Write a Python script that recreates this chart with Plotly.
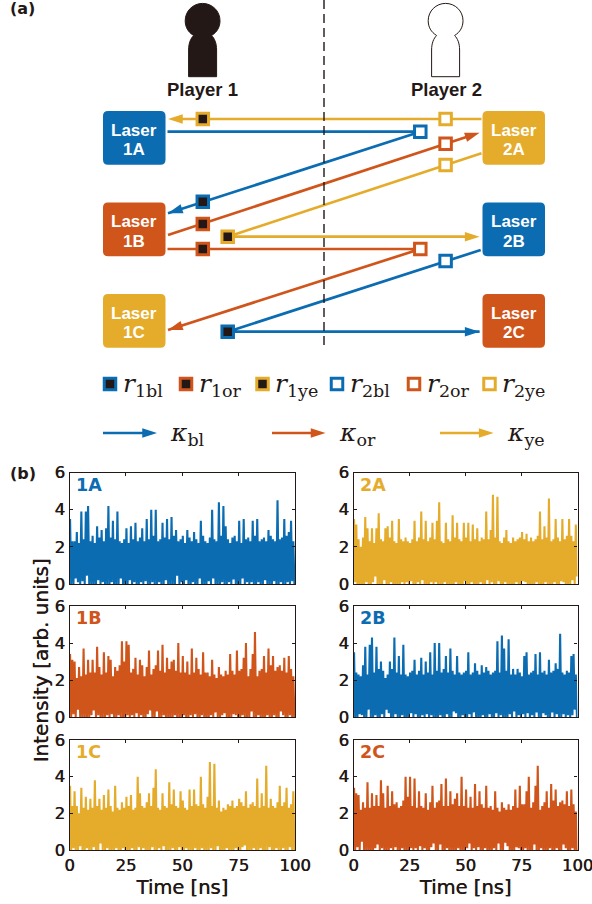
import plotly.graph_objects as go

W, H = 592, 904
BLUE, ORANGE, YELLOW, INK = "#0B6CB2", "#D0551B", "#E5AC2B", "#231815"
FAUX = "0.45px 0 0 #231815"

time_ns = [0.5,1.5,2.5,3.5,4.5,5.5,6.5,7.5,8.5,9.5,10.5,11.5,12.5,13.5,14.5,15.5,16.5,17.5,18.5,19.5,
           20.5,21.5,22.5,23.5,24.5,25.5,26.5,27.5,28.5,29.5,30.5,31.5,32.5,33.5,34.5,35.5,36.5,37.5,38.5,39.5,
           40.5,41.5,42.5,43.5,44.5,45.5,46.5,47.5,48.5,49.5,50.5,51.5,52.5,53.5,54.5,55.5,56.5,57.5,58.5,59.5,
           60.5,61.5,62.5,63.5,64.5,65.5,66.5,67.5,68.5,69.5,70.5,71.5,72.5,73.5,74.5,75.5,76.5,77.5,78.5,79.5,
           80.5,81.5,82.5,83.5,84.5,85.5,86.5,87.5,88.5,89.5,90.5,91.5,92.5,93.5,94.5,95.5,96.5,97.5,98.5,99.5]

peak_1A = [3.5,2.3,2.3,2.8,2.2,3.9,2.4,3.9,4.2,2.3,2.6,2.2,3.1,2.5,2.9,2.3,3.0,4.2,2.5,3.4,
           2.4,3.9,2.3,2.2,2.4,3.0,2.2,3.1,2.4,3.3,2.3,2.5,3.0,2.3,3.5,2.4,4.0,2.6,4.0,2.3,
           2.4,3.3,2.5,3.5,2.4,3.6,2.6,2.9,2.3,2.4,2.6,2.2,2.9,2.5,2.3,2.8,2.4,2.2,3.4,2.6,
           2.3,2.2,2.5,4.0,2.4,2.3,4.4,2.6,4.2,3.1,2.4,2.2,2.5,2.6,2.3,3.4,2.2,3.5,2.4,2.5,
           2.3,3.4,2.6,3.5,2.3,2.4,2.5,2.3,2.9,2.6,2.4,2.3,4.5,2.4,2.5,3.5,2.6,2.8,3.4,2.3]
floor_1A = [0,0,0.3,0.1,0,0.15,0,0.45,0,0,0,0,0.2,0,0.1,0,0,0,0.1,0,
            0,0,0.3,0,0,0,0.2,0,0.1,0,0,0.1,0,0.15,0,0,0.1,0,0,0.1,
            0,0,0.2,0,0,0,0,0.45,0,0.1,0,0.2,0,0,0.1,0,0,0.3,0,0,
            0,0.15,0,0.3,0,0,0,0.1,0,0,0.1,0,0.25,0,0,0,0.3,0,0.1,0,
            0.1,0,0,0.1,0,0,0.2,0,0,0,0.15,0,0,0.1,0,0,0.1,0,0.15,0]

peak_1B = [3.4,3.1,3.0,2.1,2.7,2.2,3.7,2.3,3.1,2.4,3.1,2.4,3.8,2.7,2.3,3.5,2.4,3.3,3.1,2.2,
           2.7,2.5,2.8,4.1,3.0,4.1,3.9,2.4,2.6,3.2,2.3,3.1,2.8,2.2,2.7,3.6,2.3,2.6,2.8,3.6,
           2.5,3.9,2.4,3.2,2.6,3.0,3.1,2.5,4.0,2.4,3.3,2.4,3.0,2.3,3.7,2.4,3.2,2.6,2.3,3.5,
           2.4,2.4,2.2,3.1,2.3,2.1,2.7,2.3,2.2,2.5,2.3,3.4,2.5,2.3,3.6,2.5,2.6,3.2,4.0,2.2,
           2.6,3.4,4.6,2.2,2.5,2.6,3.3,2.4,3.7,2.8,3.3,2.5,2.7,2.8,2.5,3.2,2.4,3.3,2.6,2.2]
floor_1B = [0,0.15,0,0.4,0,0,0,0,0,0.1,0.35,0,0.1,0,0,0,0.1,0,0.15,0,
            0,0.1,0,0,0,0.1,0,0.1,0,0.2,0,0.1,0,0,0.15,0.35,0,0,0.3,0,
            0,0.1,0,0,0,0,0.1,0,0,0,0.1,0,0,0.1,0,0.15,0,0,0.1,0,
            0,0,0.1,0,0.25,0,0,0.1,0.2,0,0,0,0.15,0.1,0,0,0.1,0,0,0,
            0.3,0,0,0.1,0,0,0,0.1,0,0,0.1,0,0,0.3,0.1,0,0,0.1,0,0]

peak_1C = [3.5,2.4,3.2,2.4,2.0,3.4,2.3,2.9,2.2,2.8,2.3,3.8,2.4,2.8,2.2,3.0,2.3,3.3,2.4,2.1,
           3.5,2.3,2.2,2.6,2.3,2.9,2.4,3.0,2.2,2.3,4.0,3.1,2.4,2.3,2.6,3.1,2.4,3.4,4.4,2.3,
           2.2,3.1,2.4,2.3,3.7,2.5,3.3,2.4,2.3,3.2,2.7,2.3,2.2,3.3,2.4,3.3,2.5,2.4,4.0,2.5,
           2.3,2.9,4.8,2.4,4.7,2.3,2.7,2.1,2.3,2.2,2.5,2.4,2.7,2.3,2.4,2.8,2.6,2.4,3.2,2.3,
           2.5,2.6,2.4,3.9,2.3,3.1,2.4,4.6,2.3,2.8,2.4,2.3,2.6,3.5,2.4,2.6,3.4,2.3,2.5,3.2]
floor_1C = [0,0.1,0,0,0.2,0,0,0.1,0,0,0.15,0,0,0.35,0,0,0.1,0,0,0,
            0.1,0,0,0.1,0,0,0,0.1,0,0,0.15,0,0.1,0,0,0,0.15,0,0,0.1,
            0,0.2,0,0,0,0.1,0,0,0.15,0,0,0.1,0,0,0,0.1,0,0,0.1,0,
            0,0,0.1,0,0,0.2,0,0,0,0.1,0,0,0,0.1,0,0,0.15,0.25,0,0,
            0,0.1,0,0,0.1,0,0,0,0.15,0,0,0.1,0,0,0.1,0,0,0.15,0,0]

peak_2A = [3.5,3.2,2.4,2.0,2.5,3.6,3.0,2.3,3.0,2.2,3.0,3.8,2.4,2.3,3.0,3.1,2.5,3.4,2.3,2.2,
           3.5,2.4,2.3,2.5,2.3,2.2,2.4,3.4,2.3,2.5,3.9,2.4,3.4,2.3,2.5,3.3,2.4,3.4,4.4,2.3,
           2.2,3.3,2.4,2.3,3.7,2.5,3.3,2.4,2.3,3.3,2.5,3.3,2.3,3.2,2.4,3.0,2.3,2.5,2.4,3.9,
           2.4,2.9,4.8,2.5,4.7,2.3,2.2,2.5,2.9,2.3,2.2,2.5,2.3,2.4,2.5,2.8,2.4,2.7,2.3,2.5,
           2.3,2.4,2.6,3.9,2.4,3.1,2.5,4.6,2.3,2.4,3.5,2.5,2.3,3.5,2.4,2.6,3.5,2.6,2.3,3.2]
floor_2A = [0.1,0,0,0,0,0.1,0,0,0.1,0.4,0,0,0,0.2,0,0,0.1,0,0,0,
            0,0.1,0,0.1,0,0.15,0,0,0.1,0,0.2,0,0,0,0.1,0,0.1,0,0,0,
            0.1,0,0,0,0,0.1,0,0,0,0.15,0,0,0.1,0,0,0,0.1,0,0,0.2,
            0,0.1,0,0,0.15,0,0,0.1,0,0,0,0,0.1,0,0,0.15,0.1,0,0,0,
            0,0.1,0,0,0,0.1,0,0,0,0.1,0,0,0.15,0.1,0,0,0,0.2,0,0.4]

peak_2B = [3.5,2.4,2.3,2.2,2.8,3.8,2.3,3.9,4.3,2.4,3.8,2.6,3.0,2.5,2.1,2.3,3.0,2.6,4.3,2.4,
           3.3,2.3,3.9,2.3,2.2,2.4,2.5,3.1,2.3,2.5,3.2,2.3,3.0,2.4,3.5,2.3,4.0,2.5,4.0,2.4,
           2.6,3.3,2.4,3.7,2.5,2.3,3.3,2.4,2.3,2.4,2.5,3.5,2.3,2.4,2.9,2.5,2.3,2.8,2.4,2.7,
           2.5,2.3,2.4,2.5,4.1,2.4,4.4,3.7,2.5,4.2,2.3,2.6,2.3,2.6,2.4,2.2,3.3,3.5,2.3,2.4,
           2.5,3.4,2.3,3.5,2.4,2.5,2.3,3.1,2.4,2.5,2.9,2.6,4.5,2.4,2.3,2.5,2.4,3.3,3.4,2.3]
floor_2B = [0,0,0.15,0.1,0,0,0.4,0,0,0.1,0,0,0.15,0,0.4,0.2,0,0,0.15,0,
            0,0.1,0,0,0,0.2,0,0.15,0,0,0.1,0,0.15,0,0.1,0,0,0,0.1,0,
            0,0.15,0,0,0.3,0.2,0,0,0.1,0,0,0.15,0,0.25,0,0,0,0.1,0,0,
            0.15,0,0,0.2,0,0.1,0,0,0,0.15,0,0.3,0,0.1,0,0.15,0,0.2,0,0.1,
            0,0.25,0,0,0.2,0.1,0,0,0.25,0,0.15,0,0,0.15,0,0.1,0,0.1,0.4,0]

peak_2C = [3.4,3.1,3.0,2.2,2.6,2.3,3.7,2.3,3.1,2.4,3.0,2.4,3.8,3.1,2.3,3.5,2.4,3.2,2.5,2.6,
           2.3,2.4,2.7,4.0,2.9,4.0,2.4,3.9,2.3,3.2,2.4,2.3,3.1,2.2,2.6,3.5,2.3,2.6,2.7,3.6,
           2.4,3.9,2.4,3.2,2.5,2.8,3.1,2.4,4.0,2.4,3.3,2.3,2.9,2.3,3.6,2.4,3.2,2.5,2.3,3.5,
           2.3,2.4,2.2,3.2,2.3,2.1,2.6,2.3,2.2,2.5,2.2,2.4,3.3,2.3,3.5,2.5,2.5,3.2,4.0,2.3,
           2.6,3.5,4.6,2.2,2.4,2.6,3.2,2.3,3.6,2.7,3.3,2.4,2.6,2.7,2.5,3.2,2.4,3.3,2.5,2.1]
floor_2C = [0,0.15,0,0.45,0,0,0,0,0,0.1,0.3,0,0.1,0,0,0,0.1,0,0.15,0,
            0,0.1,0,0,0,0.1,0,0.1,0,0.2,0,0.1,0,0,0.15,0.35,0,0,0.3,0,
            0,0.1,0,0,0,0,0.1,0,0,0,0.1,0.35,0,0.1,0,0.15,0,0,0.1,0,
            0,0,0.1,0,0.35,0,0,0.4,0.2,0,0,0,0.15,0.1,0,0,0.1,0,0,0,
            0.3,0,0,0.1,0,0,0,0.1,0,0,0.1,0,0,0.3,0.1,0,0,0.1,0,0]

panel_names = ["1A", "2A", "1B", "2B", "1C", "2C"]
panel_peaks = [peak_1A, peak_2A, peak_1B, peak_2B, peak_1C, peak_2C]
panel_floors = [floor_1A, floor_2A, floor_1B, floor_2B, floor_1C, floor_2C]
panel_colors = [BLUE, YELLOW, ORANGE, BLUE, YELLOW, ORANGE]
x_ticks = [0, 25, 50, 75, 100]
y_ticks = [0, 2, 4, 6]

column_px = [(69.5, 295), (353.5, 577.5)]
row_px = [(472.5, 584), (606, 717), (740, 850)]

laser_names = ["1A", "2A", "1B", "2B", "1C", "2C"]
laser_colors = [BLUE, YELLOW, ORANGE, BLUE, YELLOW, ORANGE]
laser_left = [103, 482.5, 103, 482.5, 103, 482.5]
laser_top = [111, 111, 202.5, 202.5, 294, 294]

beams = [
    ([481.5, 168], [119, 119], YELLOW, True),
    ([167.5, 420.3, 168], [131.7, 131.7, 213.3], BLUE, True),
    ([168, 479.6], [235, 132.7], ORANGE, True),
    ([227.7, 481.5], [236.7, 153.3], YELLOW, False),
    ([227.7, 479.6], [236.7, 236.7], YELLOW, True),
    ([167.5, 420.3, 168], [249, 249, 330], ORANGE, True),
    ([480.7, 227.7, 479.6], [250, 331.7, 331.7], BLUE, True),
]
solid_marks = [(202.8, 119, YELLOW), (202.8, 201.7, BLUE), (202.8, 224, ORANGE),
               (227.7, 236.7, YELLOW), (202.8, 249, ORANGE), (227.7, 331.7, BLUE)]
open_marks = [(445.6, 119, YELLOW), (420.3, 131.7, BLUE), (445.6, 143.7, ORANGE),
              (445.6, 165, YELLOW), (420.3, 249, ORANGE), (445.6, 261, BLUE)]

r_labels = ["1bl", "1or", "1ye", "2bl", "2or", "2ye"]
r_colors = [BLUE, ORANGE, YELLOW, BLUE, ORANGE, YELLOW]
r_solid = [True, True, True, False, False, False]
r_mark_x = [110, 186, 262.5, 337, 414, 489.5]
r_text_x = [120.5, 197, 272.7, 348, 425, 500.4]
kappa_labels = ["bl", "or", "ye"]
kappa_colors = [BLUE, ORANGE, YELLOW]
kappa_x0 = [103, 272, 440]
kappa_x1 = [157, 325.5, 493.6]
kappa_text_x = [168, 337, 505]

fig = go.Figure()
layout = dict(
    template="none",
    width=W, height=H, margin=dict(l=0, r=0, t=0, b=0, pad=0, autoexpand=False),
    plot_bgcolor="rgba(0,0,0,0)", paper_bgcolor="white", showlegend=False,
    font=dict(family="DejaVu Sans", color=INK),
)
annotations = []
shapes = []

for i, name in enumerate(panel_names):
    idx = i + 1
    c = i % 2
    r = i // 2
    (l, rt), (t, b) = column_px[c], row_px[r]
    xs, ys = [], []
    for tm, hi, lo in zip(time_ns, panel_peaks[i], panel_floors[i]):
        xs += [tm - 0.25, tm + 0.25]
        ys += [hi, lo]
    xname = "x" if idx == 1 else f"x{idx}"
    yname = "y" if idx == 1 else f"y{idx}"
    fig.add_trace(go.Scatter(x=xs, y=ys, mode="lines", xaxis=xname, yaxis=yname,
                             line=dict(color=panel_colors[i], width=2.1, simplify=False), hoverinfo="skip"))
    axis_common = dict(showline=True, linecolor=INK, linewidth=1.2, mirror="ticks", ticks="inside",
                       ticklen=3, tickwidth=1.2, tickcolor=INK, showgrid=False, zeroline=False,
                       automargin=False, ticklabeloverflow="allow",
                       tickfont=dict(family="DejaVu Sans", size=16.5, color=INK, shadow=FAUX))
    xkey = "xaxis" if idx == 1 else f"xaxis{idx}"
    ykey = "yaxis" if idx == 1 else f"yaxis{idx}"
    layout[xkey] = dict(domain=[l / W, rt / W], range=[0, 100], anchor=yname, tickvals=x_ticks,
                        showticklabels=(r == 2), **axis_common)
    if r == 2:
        layout[xkey]["title"] = dict(text="Time [ns]", standoff=6,
                                     font=dict(family="DejaVu Sans", size=19.5, color=INK, shadow=FAUX))
    layout[ykey] = dict(domain=[1 - b / H, 1 - t / H], range=[0, 6], anchor=xname, tickvals=y_ticks,
                        **axis_common)
    annotations.append(dict(x=l + 4, y=t + 12, xref="x7", yref="y7", text=f"<b>{name}</b>", showarrow=False,
                            xanchor="left", yanchor="middle",
                            font=dict(family="DejaVu Sans", size=17.5, color=panel_colors[i])))

layout["xaxis7"] = dict(domain=[0, 1], range=[0, W], visible=False, anchor="y7", fixedrange=True, automargin=False)
layout["yaxis7"] = dict(domain=[0, 1], range=[H, 0], visible=False, anchor="x7", fixedrange=True, automargin=False)


def person(dx):
    def p(x, y):
        return f"{x + dx:.1f},{y:.1f}"
    return ("M" + p(436.6, 35.5) + " C" + p(431, 32) + " " + p(428.2, 27) + " " + p(428.2, 20.7)
            + " C" + p(428.2, 11) + " " + p(436, 3.4) + " " + p(445.6, 3.4)
            + " C" + p(455.2, 3.4) + " " + p(463, 11) + " " + p(463, 20.7)
            + " C" + p(463, 27) + " " + p(460.2, 32) + " " + p(454.6, 35.5)
            + " C" + p(457.5, 38.5) + " " + p(459.6, 43) + " " + p(459.6, 50)
            + " L" + p(459.6, 76.7) + " L" + p(431.6, 76.7) + " L" + p(431.6, 50)
            + " C" + p(431.6, 43) + " " + p(433.7, 38.5) + " " + p(436.6, 35.5) + " Z")


shapes.append(dict(type="path", path=person(-243), xref="x7", yref="y7", fillcolor=INK, line=dict(color=INK, width=1)))
shapes.append(dict(type="path", path=person(0), xref="x7", yref="y7", fillcolor="white", line=dict(color=INK, width=1)))
shapes.append(dict(type="line", x0=324, x1=324, y0=0, y1=347.7, xref="x7", yref="y7",
                   line=dict(color=INK, width=1.4, dash="9px,5px")))


def rounded(x0, y0, x1, y1, rd=5):
    return (f"M{x0 + rd},{y0} L{x1 - rd},{y0} Q{x1},{y0} {x1},{y0 + rd} L{x1},{y1 - rd} Q{x1},{y1} {x1 - rd},{y1} "
            f"L{x0 + rd},{y1} Q{x0},{y1} {x0},{y1 - rd} L{x0},{y0 + rd} Q{x0},{y0} {x0 + rd},{y0} Z")


for nm, col, lx, ty in zip(laser_names, laser_colors, laser_left, laser_top):
    shapes.append(dict(type="path", path=rounded(lx, ty, lx + 62.5, ty + 53.7), xref="x7", yref="y7",
                       fillcolor=col, line=dict(width=0), layer="below"))
    for txt, off in (("Laser", 19.3), (nm, 38.8)):
        annotations.append(dict(x=lx + 31.2, y=ty + off, xref="x7", yref="y7", text=f"<b>{txt}</b>", showarrow=False,
                                font=dict(family="Liberation Sans", size=17, color="white")))


def arrow_trace(xs, ys, col, head, lw=2.7, sz=15.5):
    sizes = [0] * (len(xs) - 1) + [sz if head else 0]
    return go.Scatter(x=xs, y=ys, xaxis="x7", yaxis="y7", mode="lines+markers" if head else "lines",
                      line=dict(color=col, width=lw), hoverinfo="skip",
                      marker=dict(symbol="arrow", angleref="previous", size=sizes, color=col, opacity=1,
                                  line=dict(width=0, color=col)))


for bx, by, col, head in beams:
    fig.add_trace(arrow_trace(bx, by, col, head))


def square_trace(xs, ys, col, solid):
    return go.Scatter(x=xs, y=ys, xaxis="x7", yaxis="y7", mode="markers", hoverinfo="skip",
                      marker=dict(symbol="square", size=11.5, color=INK if solid else "white",
                                  line=dict(color=col, width=3)))


for mx, my, col in solid_marks:
    fig.add_trace(square_trace([mx], [my], col, True))
for mx, my, col in open_marks:
    fig.add_trace(square_trace([mx], [my], col, False))

for lab, col, sol, mx, tx in zip(r_labels, r_colors, r_solid, r_mark_x, r_text_x):
    fig.add_trace(square_trace([mx], [384], col, sol))
    annotations.append(dict(x=tx, y=385, xref="x7", yref="y7", showarrow=False, xanchor="left",
                            text=f"<i>r</i><sub>{lab}</sub>", font=dict(family="DejaVu Serif", size=25, color=INK)))

for lab, col, x0, x1, tx in zip(kappa_labels, kappa_colors, kappa_x0, kappa_x1, kappa_text_x):
    fig.add_trace(arrow_trace([x0, x1], [433, 433], col, True))
    annotations.append(dict(x=tx, y=434, xref="x7", yref="y7", showarrow=False, xanchor="left",
                            text=f"<i>κ</i><sub>{lab}</sub>", font=dict(family="DejaVu Serif", size=25, color=INK)))

for txt, x, y in (("Player 1", 202, 89), ("Player 2", 446, 89)):
    annotations.append(dict(x=x, y=y, xref="x7", yref="y7", text=f"<b>{txt}</b>", showarrow=False,
                            font=dict(family="Liberation Sans", size=18.5, color=INK)))
for txt, y in (("(a)", 8), ("(b)", 473)):
    annotations.append(dict(x=8, y=y, xref="x7", yref="y7", text=f"<b>{txt}</b>", showarrow=False, xanchor="left",
                            font=dict(family="DejaVu Sans", size=16, color=INK)))
annotations.append(dict(x=40.5, y=661, xref="x7", yref="y7", text="Intensity [arb. units]", showarrow=False, textangle=-90,
                        font=dict(family="DejaVu Sans", size=20, color=INK, shadow=FAUX)))

layout["annotations"] = annotations
layout["shapes"] = shapes
fig.update_layout(**layout)
fig.write_html("out.html", post_script="document.body.style.margin='0';",
               config=dict(displayModeBar=False))
